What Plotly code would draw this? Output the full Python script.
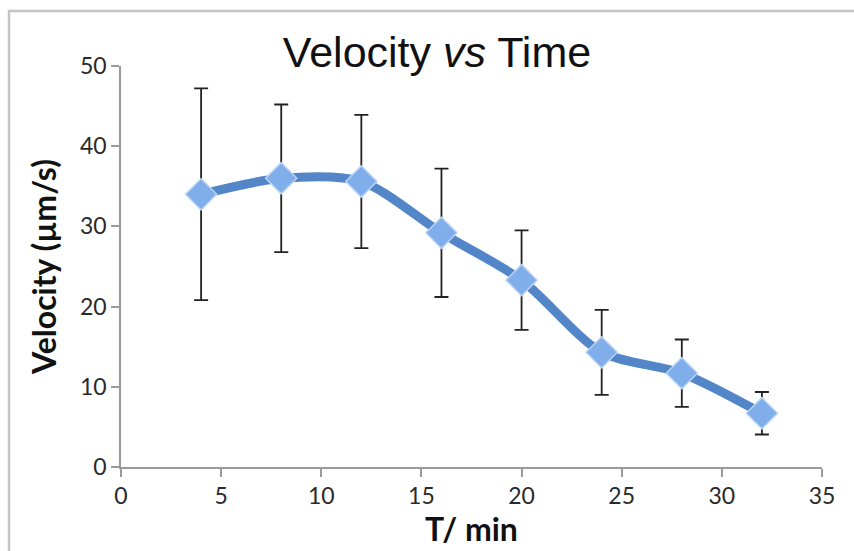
import plotly.graph_objects as go

time_min = [4, 8, 12, 16, 20, 24, 28, 32]
velocity = [34.0, 36.0, 35.6, 29.2, 23.3, 14.3, 11.7, 6.7]
error = [13.2, 9.2, 8.3, 8.0, 6.2, 5.3, 4.2, 2.65]

x_ticks = [0, 5, 10, 15, 20, 25, 30, 35]
y_ticks = [0, 10, 20, 30, 40, 50]

W, H = 854, 551
L, R, T, B = 121, 32, 66, 84
pw, ph = W - L - R, H - T - B

fig = go.Figure()
fig.add_trace(go.Scatter(
    x=time_min, y=velocity,
    mode="lines+markers",
    line=dict(color="#5286C8", width=9, shape="spline", smoothing=0.8),
    marker=dict(symbol="diamond", size=24, color="#7FAEEA",
                line=dict(color="#B9D3F5", width=1.5)),
    error_y=dict(type="data", array=error, visible=True,
                 color="#222222", thickness=1.8, width=7),
    showlegend=False,
))

fig.update_layout(
    width=W, height=H,
    margin=dict(l=L, r=R, t=T, b=B),
    paper_bgcolor="white", plot_bgcolor="white",
    title=dict(text="Velocity <i>vs</i> Time", x=(437 - L) / pw, xref="paper",
               y=1 - 52 / H, yanchor="middle",
               font=dict(family="Liberation Sans", size=43, color="#111111")),
    xaxis=dict(range=[0, 35], tickvals=x_ticks, showgrid=False, zeroline=False,
               showline=True, linecolor="#9A9A9A", linewidth=1.5,
               ticks="outside", ticklen=8, tickcolor="#9A9A9A", tickwidth=1.5,
               tickfont=dict(family="Lato", size=23, color="#2A2A2A"),
               title=dict(text="<b>T/ min</b>", standoff=0,
                          font=dict(family="Lato", size=32, color="#111111"))),
    yaxis=dict(range=[0, 50], tickvals=y_ticks, showgrid=False, zeroline=False,
               showline=True, linecolor="#9A9A9A", linewidth=1.5,
               ticks="outside", ticklen=8, tickcolor="#9A9A9A", tickwidth=1.5,
               tickfont=dict(family="Lato", size=23, color="#2A2A2A"),
               title=dict(text="<b>Velocity (µm/s)</b>", standoff=14,
                          font=dict(family="Lato", size=32, color="#111111"))),
)

# outer frame (top and left edges visible, rest extends past the picture)
fig.add_shape(type="rect", xref="paper", yref="paper",
              x0=(9 - L) / pw, x1=(W + 10 - L) / pw,
              y0=-(B + 10) / ph, y1=1 + (T - 11) / ph,
              line=dict(color="#C4C4C4", width=2.5), layer="below")

fig.write_html("out.html")
